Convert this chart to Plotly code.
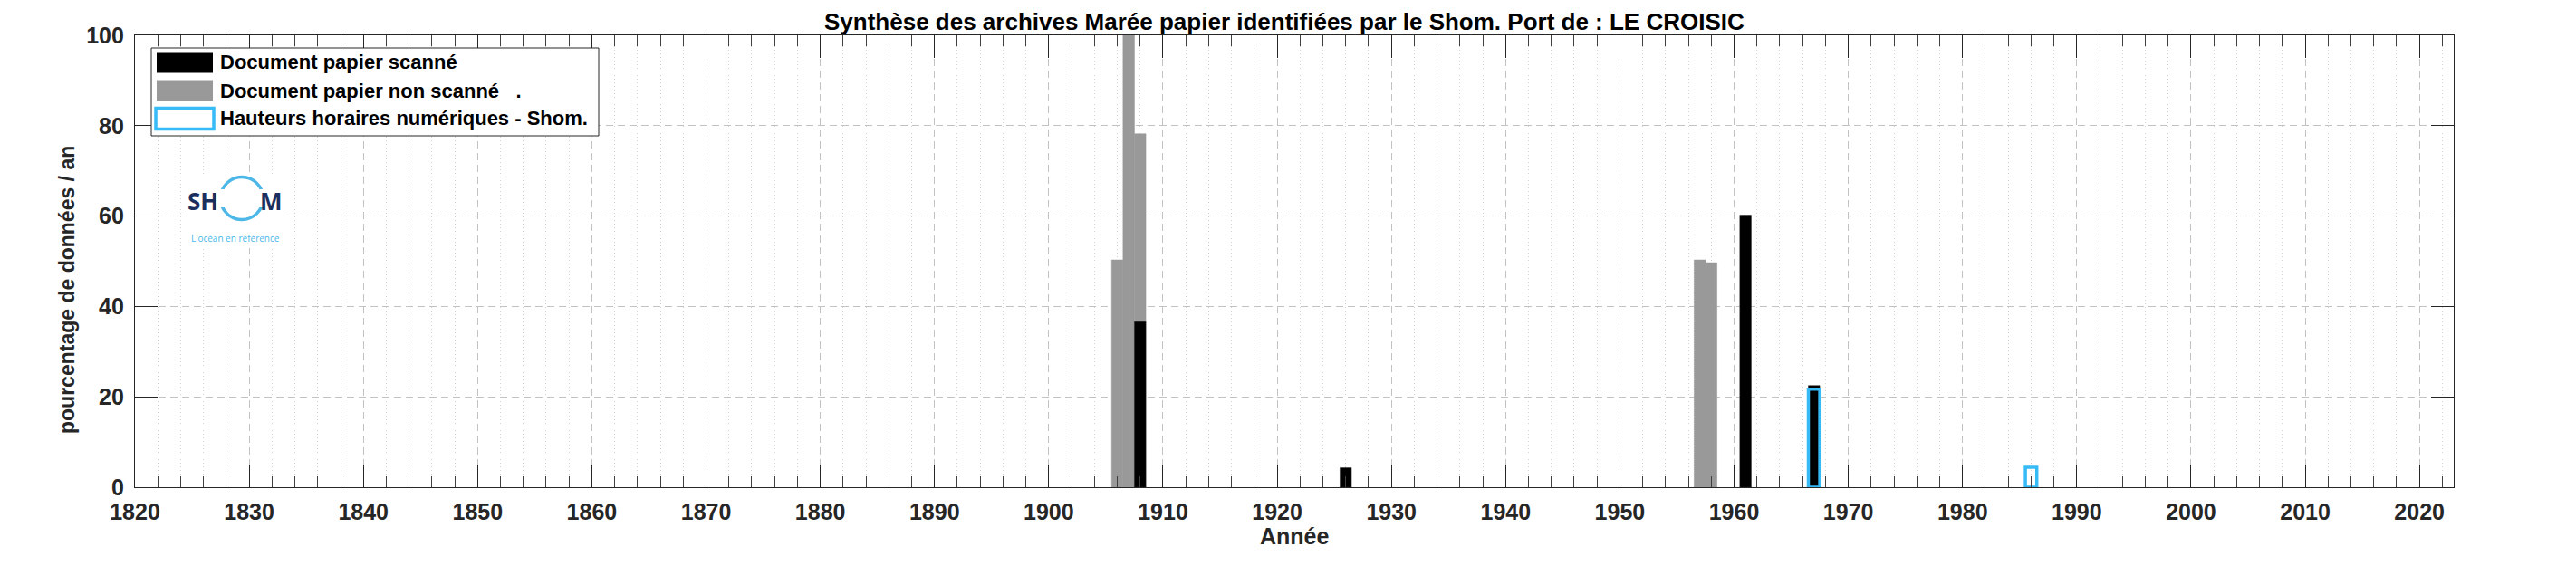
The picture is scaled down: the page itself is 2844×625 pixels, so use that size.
import plotly.graph_objects as go

# ---------------- data ----------------
years_scanned = [1908, 1926, 1961, 1967]
pct_scanned = [36.6, 4.3, 60.2, 22.5]

years_unscanned = [1906, 1907, 1908, 1957, 1958]
pct_unscanned = [50.3, 100, 78.2, 50.3, 49.7]

years_numeric = [1967, 1986]
pct_numeric = [21.7, 4.4]

x_range = [1820, 2023]
y_range = [0, 100]
x_ticks = list(range(1820, 2021, 10))
x_minor = [y for y in range(1822, 2023, 2) if y % 10 != 0]
y_ticks = list(range(0, 101, 20))

title_text = "Synthèse des archives Marée papier identifiées par le Shom. Port de : LE CROISIC"
x_title = "Année"
y_title = "pourcentage de données / an"
legend_labels = ["Document papier scanné",
                 "Document papier non scanné\u00a0\u00a0\u00a0.",
                 "Hauteurs horaires numériques - Shom."]

# ---------------- geometry ----------------
W, H = 2844, 625
ML, MR, MT, MB = 141, 143, 31, 95
PW = W - ML - MR
PH = H - MT - MB


def px(x):
    return (x - ML) / PW


def py(y):
    return (H - MB - y) / PH


BLACK = "#000000"
GRAY = "#999999"
BLUE = "#36bbf7"
AX = "#262626"
FONT = "Liberation Sans"

fig = go.Figure()
fig.add_bar(x=years_unscanned, y=pct_unscanned, width=1,
            marker=dict(color=GRAY, line=dict(color=GRAY, width=0.5)),
            name=legend_labels[1])
fig.add_bar(x=years_scanned, y=pct_scanned, width=1,
            marker=dict(color=BLACK, line=dict(color="#222222", width=0.5)),
            name=legend_labels[0])
fig.add_bar(x=years_numeric, y=pct_numeric, width=1,
            marker=dict(color="rgba(0,0,0,0)", line=dict(color=BLUE, width=3.5)),
            name=legend_labels[2])

tickfont = dict(family=FONT, size=25, color=AX, weight="bold")

fig.update_layout(
    width=W, height=H,
    margin=dict(l=ML, r=MR, t=MT, b=MB, pad=0),
    barmode="overlay",
    showlegend=False,
    plot_bgcolor="white", paper_bgcolor="white",
    xaxis=dict(
        range=x_range, tickmode="array", tickvals=x_ticks,
        ticks="inside", ticklen=25, tickwidth=1, tickcolor=AX,
        showline=True, linecolor=AX, linewidth=1.3, mirror="allticks",
        showgrid=True, gridcolor="#c2c2c2", griddash="8px,5px", gridwidth=1,
        zeroline=False, tickfont=tickfont, ticklabelstandoff=5,
        minor=dict(tickmode="array", tickvals=x_minor, ticks="inside", ticklen=12,
                   tickwidth=1, tickcolor="#404040", showgrid=True,
                   gridcolor="#d2d2d2", griddash="1px,3px", gridwidth=1),
    ),
    yaxis=dict(
        range=y_range, tickmode="array", tickvals=y_ticks,
        ticks="inside", ticklen=25, tickwidth=1, tickcolor=AX,
        showline=True, linecolor=AX, linewidth=1.3, mirror="allticks",
        showgrid=True, gridcolor="#c2c2c2", griddash="8px,5px", gridwidth=1,
        zeroline=False, tickfont=tickfont, ticklabelstandoff=6,
    ),
)

shapes = []
annotations = []

# title and axis titles
annotations.append(dict(text=title_text, x=px(1410), y=py(16), xref="paper", yref="paper",
                        xanchor="center", yanchor="middle", showarrow=False,
                        font=dict(family=FONT, size=26, color=BLACK, weight="bold")))
annotations.append(dict(text=x_title, x=px(1421), y=py(584), xref="paper", yref="paper",
                        xanchor="center", yanchor="middle", showarrow=False,
                        font=dict(family=FONT, size=25, color=AX, weight="bold")))
annotations.append(dict(text=y_title, x=px(66), y=py(312), xref="paper", yref="paper",
                        xanchor="center", yanchor="middle", showarrow=False, textangle=-90,
                        font=dict(family=FONT, size=23, color=AX, weight="bold")))

# legend box
shapes.append(dict(type="rect", xref="paper", yref="paper", layer="above",
                   x0=px(159), x1=px(653), y0=py(142), y1=py(45),
                   fillcolor="white", line=dict(color=AX, width=1)))
centers = [61, 92, 123]
sw_x0, sw_x1 = 165, 227
hh = 11.5
shapes.append(dict(type="rect", xref="paper", yref="paper", layer="above",
                   x0=px(sw_x0), x1=px(sw_x1), y0=py(centers[0] + hh), y1=py(centers[0] - hh),
                   fillcolor=BLACK, line=dict(width=0)))
shapes.append(dict(type="rect", xref="paper", yref="paper", layer="above",
                   x0=px(sw_x0), x1=px(sw_x1), y0=py(centers[1] + hh), y1=py(centers[1] - hh),
                   fillcolor=GRAY, line=dict(width=0)))
shapes.append(dict(type="rect", xref="paper", yref="paper", layer="above",
                   x0=px(sw_x0 - 1), x1=px(sw_x1 + 1), y0=py(centers[2] + hh), y1=py(centers[2] - hh),
                   fillcolor="white", line=dict(color=BLUE, width=3.5)))
for c, lab in zip(centers, legend_labels):
    annotations.append(dict(text=lab, x=px(233), y=py(c), xref="paper", yref="paper",
                            xanchor="left", yanchor="middle", showarrow=False,
                            font=dict(family=FONT, size=22, color=BLACK, weight="bold")))

# SHOM logo
NAVY = "#1b2f5e"
LBLUE = "#4db8e8"
shapes.append(dict(type="rect", xref="paper", yref="paper", layer="above",
                   x0=px(196), x1=px(310), y0=py(266), y1=py(184),
                   fillcolor="white", line=dict(width=0)))
cx, cy, r = 259, 211, 23.5
shapes.append(dict(type="circle", xref="paper", yref="paper", layer="above",
                   x0=px(cx - r), x1=px(cx + r), y0=py(cy + r), y1=py(cy - r),
                   fillcolor="rgba(0,0,0,0)", line=dict(color=LBLUE, width=3.5)))
for gx in (cx - r, cx + r):
    shapes.append(dict(type="rect", xref="paper", yref="paper", layer="above",
                       x0=px(gx - 5), x1=px(gx + 5), y0=py(cy + 10), y1=py(cy - 10),
                       fillcolor="white", line=dict(width=0)))
annotations.append(dict(text="SH", x=px(216), y=py(214), xref="paper", yref="paper",
                        xanchor="center", yanchor="middle", showarrow=False,
                        font=dict(family="Open Sans", size=26, color=NAVY, weight="bold")))
annotations.append(dict(text="M", x=px(291), y=py(214), xref="paper", yref="paper",
                        xanchor="center", yanchor="middle", showarrow=False,
                        font=dict(family="Open Sans", size=26, color=NAVY, weight="bold")))
annotations.append(dict(text="L'océan en référence", x=px(252), y=py(255), xref="paper", yref="paper",
                        xanchor="center", yanchor="middle", showarrow=False,
                        font=dict(family="Open Sans", size=10, color=LBLUE)))

fig.update_layout(shapes=shapes, annotations=annotations)
fig.write_html("out.html")
